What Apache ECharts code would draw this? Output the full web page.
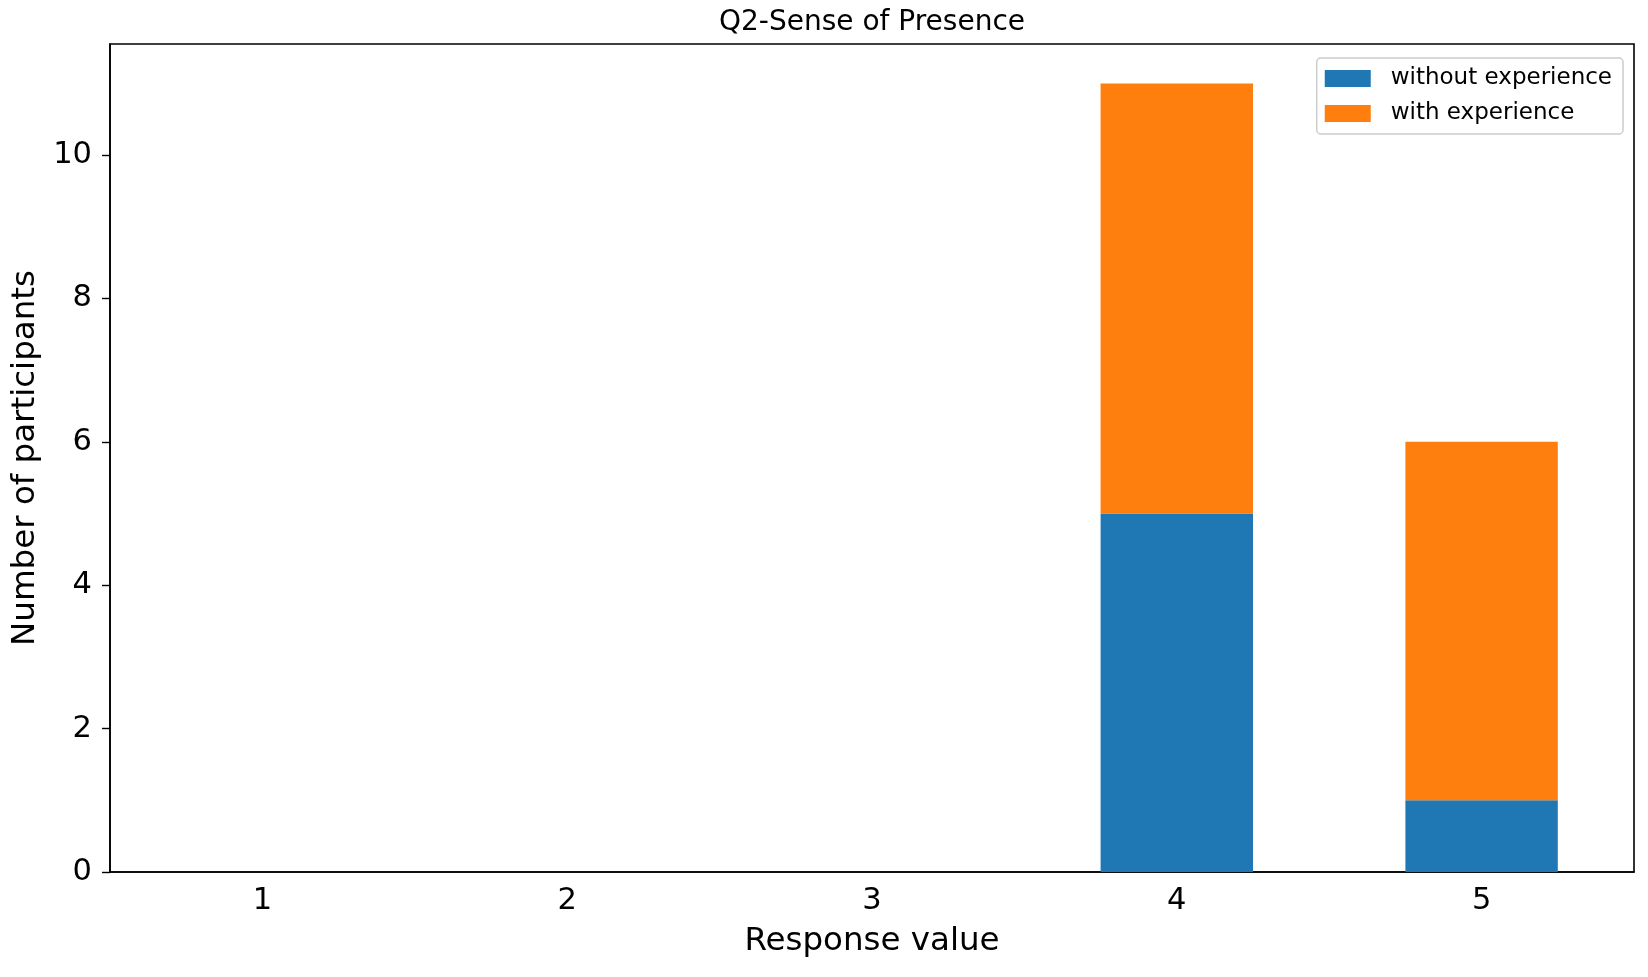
<!DOCTYPE html>
<html>
<head>
<meta charset="utf-8">
<script src="https://cdn.jsdelivr.net/npm/echarts@6/dist/echarts.min.js"></script>
<style>
  html, body { margin: 0; padding: 0; background: #fff; }
  #chart { width: 1648px; height: 977px; }
</style>
</head>
<body>
<div id="chart"></div>
<script>
'use strict'

// data
const responseValues = ['1', '2', '3', '4', '5'];
const withoutExperience = [0, 0, 0, 5, 1];
const withExperience = [0, 0, 0, 6, 5];
const yTicks = [0, 2, 4, 6, 8, 10];

const font = 'DejaVu Sans';
const chart = echarts.init(document.getElementById('chart'));

const option = {
    animation: false,
    backgroundColor: '#fff',
    textStyle: { fontFamily: font },
    title: {
        text: 'Q2-Sense of Presence',
        left: 867,
        top: 4,
        textAlign: 'center',
        textStyle: { fontFamily: font, fontSize: 28, fontWeight: 'normal', color: '#000' }
    },
    legend: {
        orient: 'vertical',
        right: 25,
        top: 58,
        icon: 'rect',
        itemWidth: 46,
        itemHeight: 17,
        itemGap: 12,
        padding: [9, 11, 9, 8],
        borderColor: '#cccccc',
        borderWidth: 1.5,
        borderRadius: 4,
        backgroundColor: '#fff',
        textStyle: { fontFamily: font, fontSize: 23, color: '#000', padding: [0, 0, 0, 15] },
        data: ['without experience', 'with experience']
    },
    grid: {
        left: 110,
        right: 14,
        top: 44,
        bottom: 105,
        show: true,
        borderColor: '#000',
        borderWidth: 1.6,
        backgroundColor: 'transparent'
    },
    xAxis: {
        type: 'category',
        data: responseValues,
        boundaryGap: true,
        name: 'Response value',
        nameLocation: 'middle',
        nameGap: 53,
        nameTextStyle: { fontFamily: font, fontSize: 32.5, color: '#000' },
        axisLine: { lineStyle: { color: '#000', width: 1.6 } },
        axisTick: { alignWithLabel: true, length: 8, lineStyle: { color: '#000', width: 1.4 } },
        axisLabel: { fontFamily: font, fontSize: 30.5, color: '#000', margin: 14 },
        splitLine: { show: false }
    },
    yAxis: {
        type: 'value',
        min: 0,
        max: 11.55,
        interval: 2,
        name: 'Number of participants',
        nameLocation: 'middle',
        nameGap: 68,
        nameRotate: 90,
        nameTextStyle: { fontFamily: font, fontSize: 32.5, color: '#000' },
        axisLine: { show: true, lineStyle: { color: '#000', width: 1.6 } },
        axisTick: { show: true, length: 8, customValues: yTicks, lineStyle: { color: '#000', width: 1.4 } },
        axisLabel: { fontFamily: font, fontSize: 30.5, color: '#000', margin: 18, customValues: yTicks },
        splitLine: { show: false }
    },
    series: [
        {
            name: 'without experience',
            type: 'bar',
            stack: 'total',
            barWidth: '50%',
            itemStyle: { color: '#1f77b4' },
            data: withoutExperience
        },
        {
            name: 'with experience',
            type: 'bar',
            stack: 'total',
            barWidth: '50%',
            itemStyle: { color: '#ff7f0e' },
            data: withExperience
        }
    ]
};

chart.setOption(option);
</script>
</body>
</html>
